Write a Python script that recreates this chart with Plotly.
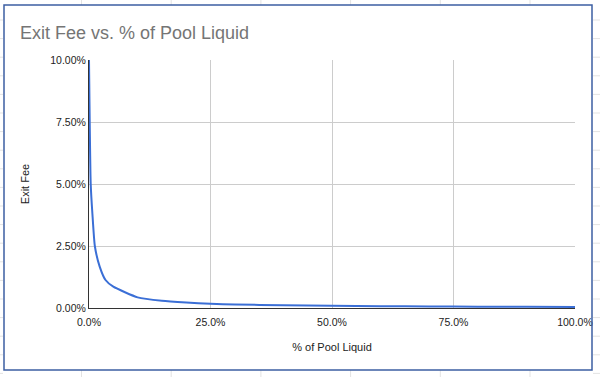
import plotly.graph_objects as go

# Data
pool_liquid = [0, 0.0035, 0.007, 0.012, 0.022, 0.034, 0.05, 0.10, 0.15, 0.20, 0.25,
               0.30, 0.40, 0.50, 0.60, 0.70, 0.80, 0.90, 1.00]
exit_fee = [0.100, 0.050, 0.038, 0.025, 0.0167, 0.0113, 0.0086, 0.0043, 0.0029, 0.0022,
            0.0017, 0.0014, 0.0011, 0.00086, 0.00072, 0.00061, 0.00054, 0.00048, 0.00043]
x_ticks = [0, 0.25, 0.5, 0.75, 1.0]
y_ticks = [0, 0.025, 0.05, 0.075, 0.10]

fig = go.Figure()
fig.add_trace(go.Scatter(
    x=pool_liquid, y=exit_fee, mode="lines",
    line=dict(color="#3b6fd6", width=2, shape="spline", smoothing=0.5),
    hoverinfo="skip", showlegend=False))

font_family = "Liberation Sans, Arial, sans-serif"
fig.update_layout(
    width=600, height=377,
    margin=dict(l=89, r=25, t=60, b=69, autoexpand=False),
    paper_bgcolor="white", plot_bgcolor="white",
    font=dict(family=font_family, size=10.5, color="#222222"),
    title=dict(text="Exit Fee vs. % of Pool Liquid", x=20/600, xanchor="left",
               y=1-33/377, yanchor="middle",
               font=dict(family=font_family, size=18, color="#757575")),
    xaxis=dict(range=[0, 1], tickvals=x_ticks, tickformat=".1%", automargin=False,
               showgrid=True, gridcolor="#cccccc", gridwidth=1,
               showline=True, linecolor="#333333", linewidth=1,
               zeroline=False, ticks="", ticklen=0, ticklabelstandoff=4,
               tickfont=dict(size=10.5, color="#222222"),
               title=dict(text="% of Pool Liquid", standoff=16,
                          font=dict(size=11, color="#222222"))),
    yaxis=dict(range=[0, 0.10], tickvals=y_ticks, tickformat=".2%", automargin=False,
               showgrid=True, gridcolor="#cccccc", gridwidth=1,
               showline=True, linecolor="#333333", linewidth=1,
               zeroline=False, ticks="", ticklen=0,
               tickfont=dict(size=10.5, color="#222222"),
               title=dict(text="Exit Fee", standoff=18,
                          font=dict(size=11, color="#222222"))),
)

# pixel -> paper helpers for decorative frame
def px(x):
    return (x - 89) / 486

def py(y):
    return (308 - y) / 248

# faint spreadsheet grid visible outside the chart frame
grid_col = "#e3e3e3"
for k in range(7):
    gx = 81.5 + 89.7 * k
    fig.add_shape(type="line", xref="paper", yref="paper", x0=px(gx), x1=px(gx),
                  y0=py(0), y1=py(5), line=dict(color=grid_col, width=1), layer="below")
    fig.add_shape(type="line", xref="paper", yref="paper", x0=px(gx), x1=px(gx),
                  y0=py(370), y1=py(377), line=dict(color=grid_col, width=1), layer="below")
for k in range(20):
    gy = 20 + 18.6 * k
    fig.add_shape(type="line", xref="paper", yref="paper", x0=px(593), x1=px(600),
                  y0=py(gy), y1=py(gy), line=dict(color=grid_col, width=1), layer="below")
    fig.add_shape(type="line", xref="paper", yref="paper", x0=px(0), x1=px(3),
                  y0=py(gy), y1=py(gy), line=dict(color=grid_col, width=1), layer="below")

# Blue border around the chart (like the screenshot frame)
fig.add_shape(type="rect", xref="paper", yref="paper",
              x0=px(4), x1=px(592), y0=py(370), y1=py(5),
              line=dict(color="#3d5fa3", width=1.5), fillcolor="rgba(0,0,0,0)",
              layer="above")

fig.write_html("out.html", config={"displayModeBar": False},
               post_script="document.body.style.margin='0';document.body.style.overflow='hidden';")
